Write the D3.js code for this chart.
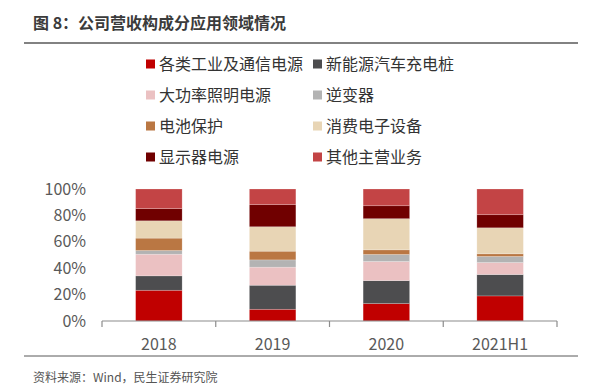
<!DOCTYPE html>
<html>
<head>
<meta charset="utf-8">
<script src="https://cdn.jsdelivr.net/npm/d3@7"></script>
<style>
  body { margin: 0; background: #fff; }
  svg { font-family: "Noto Sans CJK SC", "Noto Sans", sans-serif; }
</style>
</head>
<body>
<svg id="chart" width="602" height="384"></svg>
<script>
// chart data
const years = ['2018', '2019', '2020', '2021H1'];
const series = ['各类工业及通信电源', '新能源汽车充电桩', '大功率照明电源', '逆变器',
  '电池保护', '消费电子设备', '显示器电源', '其他主营业务'];
const colors = ['#C00000', '#4D4D4F', '#EBC1C2', '#B3B3B3',
  '#BA7743', '#E8D5B5', '#700000', '#C34445'];
const shares = [
  [23.3, 10.9, 16.4, 2.8, 9.4, 13.1, 9.2, 14.9],
  [8.9, 18.2, 13.7, 5.5, 6.6, 18.5, 16.7, 11.9],
  [13.2, 17.4, 14.5, 5.3, 3.5, 23.6, 9.8, 12.7],
  [19.0, 16.2, 9.1, 4.6, 2.0, 19.7, 9.9, 19.5]
];
const yTicks = [0, 20, 40, 60, 80, 100];

const svg = d3.select('#chart');

// title + rules
svg.append('text')
  .attr('x', 33).attr('y', 29)
  .attr('font-size', 16).attr('font-weight', 'bold')
  .attr('fill', '#3b3b3b')
  .text('图 8：公司营收构成分应用领域情况');
svg.append('line').attr('x1', 24).attr('x2', 578).attr('y1', 43).attr('y2', 43)
  .attr('stroke', '#595959').attr('stroke-width', 1.5);
svg.append('line').attr('x1', 24).attr('x2', 578).attr('y1', 356).attr('y2', 356)
  .attr('stroke', '#595959').attr('stroke-width', 1);
svg.append('text')
  .attr('x', 33).attr('y', 382)
  .attr('font-size', 12).attr('fill', '#555')
  .text('资料来源：Wind，民生证券研究院');

// legend, two columns
const legend = svg.append('g').selectAll('g')
  .data(series)
  .join('g')
  .attr('transform', (d, i) => `translate(${i % 2 ? 313 : 146},${64 + Math.floor(i / 2) * 31})`);
legend.append('rect')
  .attr('x', 0).attr('y', -4.5).attr('width', 9).attr('height', 9)
  .attr('fill', (d, i) => colors[i]);
legend.append('text')
  .attr('x', 13).attr('dy', '0.36em')
  .attr('font-size', 16).attr('fill', '#333')
  .text(d => d);

// scales
const x = d3.scaleBand().domain(years).range([102, 557]).padding(0);
const y = d3.scaleLinear().domain([0, 100]).range([321, 189]);
const barW = 46.5;

// stacked bars
const stacked = d3.stack()
  .keys(d3.range(series.length))
  .value((row, k) => row[k])(shares);

svg.append('g').selectAll('g')
  .data(stacked)
  .join('g')
  .attr('fill', (d, i) => colors[i])
  .selectAll('rect')
  .data(d => d.map((v, j) => ({ v, year: years[j] })))
  .join('rect')
  .attr('x', d => x(d.year) + (x.bandwidth() - barW) / 2)
  .attr('width', barW)
  .attr('y', d => y(d.v[1]))
  .attr('height', d => y(d.v[0]) - y(d.v[1]))
  .attr('stroke', '#fff').attr('stroke-opacity', 0.35).attr('stroke-width', 0.6);

// y axis: labels only
const yAxis = svg.append('g')
  .attr('transform', 'translate(86,0)')
  .call(d3.axisLeft(y).tickValues(yTicks).tickSize(0).tickPadding(0).tickFormat(d => d + '%'));
yAxis.select('.domain').remove();
yAxis.selectAll('text').attr('font-size', 16).attr('fill', '#595959')
  .attr('font-family', '"Noto Sans CJK SC", sans-serif');

// x axis: baseline with ticks on band edges
const xg = svg.append('g').attr('transform', `translate(0,${y(0)})`);
xg.append('line').attr('x1', 102).attr('x2', 557)
  .attr('stroke', '#8c8c8c').attr('stroke-width', 1.2);
xg.selectAll('.edge')
  .data(years.map(d => x(d)).concat([x.range()[1]]))
  .join('line')
  .attr('x1', d => d).attr('x2', d => d)
  .attr('y1', 0).attr('y2', 6)
  .attr('stroke', '#8c8c8c').attr('stroke-width', 1.2);
xg.selectAll('.lbl')
  .data(years)
  .join('text')
  .attr('x', d => x(d) + x.bandwidth() / 2)
  .attr('y', 29)
  .attr('text-anchor', 'middle')
  .attr('font-size', 16).attr('fill', '#595959')
  .text(d => d);
</script>
</body>
</html>
